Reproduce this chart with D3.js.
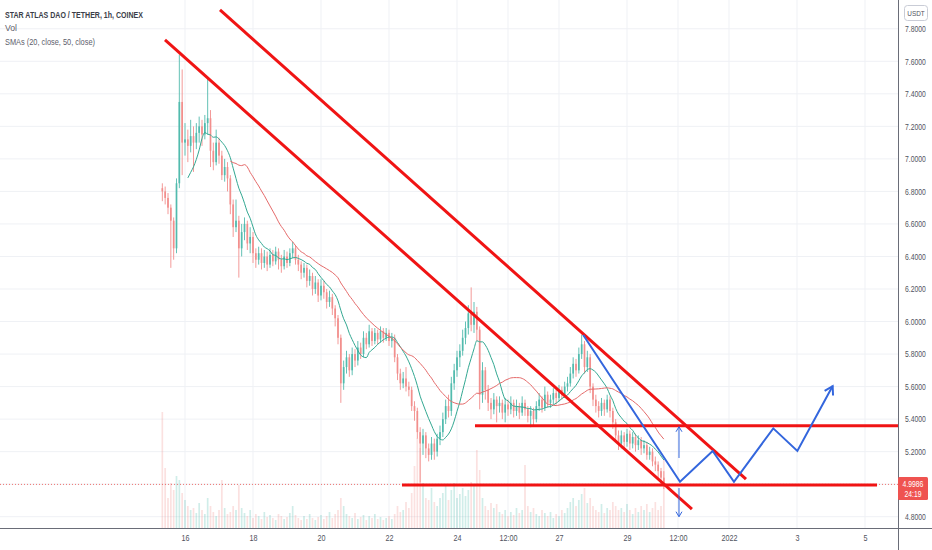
<!DOCTYPE html>
<html><head><meta charset="utf-8">
<script src="https://cdn.jsdelivr.net/npm/d3@7"></script>
<style>
body{margin:0;background:#fff;}
svg{display:block;font-family:"Liberation Sans",Arial,sans-serif;}
</style>
</head><body>
<svg id="c" width="932" height="550"></svg>
<script>
// ---------------- DATA ----------------
const titleText = "STAR ATLAS DAO / TETHER, 1h, COINEX";
const volText = "Vol";
const smaText = "SMAs (20, close, 50, close)";
const currency = "USDT";
const startTime = "2021-12-15T08:00:00Z";   // first candle
const candleHours = 2;                       // candles resampled to 2h
const smaHours = [20, 50];
const firstOpen = 6.82;
const closes = [
6.80,6.76,6.70,6.62,6.45,6.85,7.35,7.10,7.12,7.08,
7.14,7.10,7.16,7.20,7.15,7.22,7.25,7.05,6.98,7.10,
7.02,6.90,6.95,6.88,6.72,6.58,6.62,6.45,6.55,6.60,
6.48,6.52,6.42,6.38,6.42,6.36,6.40,6.35,6.41,6.37,
6.43,6.38,6.34,6.40,6.36,6.42,6.45,6.38,6.35,6.30,
6.33,6.25,6.28,6.20,6.24,6.16,6.22,6.18,6.12,6.15,
6.08,6.02,5.90,5.62,5.72,5.78,5.70,5.80,5.76,5.84,
5.80,5.90,5.86,5.94,5.88,5.93,5.89,5.94,5.90,5.93,
5.88,5.90,5.78,5.68,5.62,5.65,5.60,5.58,5.48,5.45,
5.32,5.25,5.30,5.22,5.18,5.25,5.20,5.28,5.32,5.40,
5.48,5.45,5.62,5.70,5.78,5.82,5.90,5.96,6.05,5.98,
6.06,5.95,5.55,5.70,5.58,5.50,5.46,5.52,5.48,5.50,
5.44,5.49,5.46,5.50,5.45,5.48,5.44,5.50,5.46,5.42,
5.45,5.40,5.48,5.52,5.47,5.55,5.50,5.52,5.56,5.53,
5.58,5.55,5.60,5.62,5.68,5.74,5.70,5.80,5.86,5.72,
5.78,5.60,5.52,5.48,5.45,5.50,5.46,5.52,5.45,5.38,
5.30,5.25,5.30,5.26,5.31,5.25,5.29,5.24,5.27,5.22,
5.24,5.18,5.20,5.14,5.12,5.08,5.04,4.9986];
const highs = [
6.85,6.83,6.79,6.72,6.64,6.88,7.64,7.55,7.22,7.18,
7.24,7.20,7.22,7.26,7.24,7.27,7.50,7.30,7.10,7.18,
7.13,7.05,7.00,6.98,6.90,6.75,6.75,6.65,6.60,6.64,
6.62,6.58,6.55,6.45,6.46,6.45,6.44,6.43,6.45,6.44,
6.46,6.45,6.41,6.44,6.43,6.45,6.49,6.47,6.41,6.37,
6.36,6.35,6.32,6.30,6.28,6.26,6.26,6.25,6.20,6.19,
6.17,6.10,6.04,5.92,5.76,5.82,5.80,5.84,5.83,5.88,
5.87,5.94,5.93,5.98,5.96,5.96,5.95,5.97,5.96,5.96,
5.95,5.93,5.92,5.80,5.71,5.69,5.72,5.63,5.60,5.51,
5.47,5.35,5.34,5.32,5.25,5.29,5.28,5.31,5.36,5.44,
5.52,5.55,5.66,5.74,5.82,5.86,5.95,6.00,6.10,6.21,
6.12,6.09,5.97,5.75,5.72,5.61,5.53,5.56,5.54,5.54,
5.52,5.53,5.52,5.54,5.52,5.52,5.50,5.54,5.52,5.48,
5.48,5.47,5.51,5.56,5.54,5.60,5.57,5.55,5.59,5.58,
5.61,5.60,5.63,5.66,5.72,5.78,5.77,5.84,5.92,5.88,
5.82,5.80,5.62,5.55,5.51,5.53,5.52,5.55,5.54,5.47,
5.40,5.33,5.33,5.32,5.34,5.33,5.32,5.31,5.30,5.29,
5.27,5.26,5.23,5.22,5.17,5.14,5.10,5.08];
const lows = [
6.74,6.72,6.66,6.33,6.38,6.42,6.82,6.90,7.02,6.98,
7.04,6.92,7.06,7.10,7.08,7.12,7.15,6.95,6.93,6.96,
6.97,6.87,6.86,6.80,6.66,6.52,6.55,6.27,6.40,6.50,
6.44,6.42,6.36,6.33,6.35,6.32,6.33,6.31,6.33,6.34,
6.35,6.32,6.30,6.32,6.33,6.34,6.39,6.35,6.31,6.26,
6.27,6.21,6.22,6.16,6.17,6.12,6.13,6.14,6.08,6.09,
6.04,5.97,5.86,5.50,5.58,5.68,5.66,5.67,5.72,5.73,
5.77,5.78,5.83,5.84,5.85,5.86,5.86,5.87,5.87,5.88,
5.85,5.84,5.75,5.64,5.58,5.59,5.57,5.54,5.45,5.39,
5.28,5.01,5.18,5.16,5.14,5.15,5.15,5.17,5.24,5.29,
5.37,5.41,5.42,5.58,5.66,5.72,5.79,5.86,5.92,5.94,
5.93,5.88,5.46,5.50,5.52,5.45,5.40,5.43,5.38,5.44,
5.40,5.38,5.42,5.43,5.41,5.42,5.40,5.42,5.42,5.38,
5.35,5.36,5.38,5.45,5.44,5.45,5.47,5.47,5.49,5.49,
5.51,5.52,5.53,5.57,5.60,5.65,5.66,5.68,5.77,5.68,
5.69,5.56,5.48,5.44,5.41,5.42,5.42,5.44,5.41,5.34,
5.26,5.21,5.22,5.22,5.23,5.21,5.22,5.20,5.21,5.18,
5.19,5.15,5.15,5.11,5.08,5.04,5.00,4.97];
const volumes = [
116,60,30,45,38,52,48,35,28,22,
18,20,15,25,18,14,30,22,16,12,
18,48,20,14,16,22,18,43,20,15,
12,18,10,14,12,9,16,11,13,10,
8,14,12,9,11,15,22,13,10,8,
12,9,14,10,8,11,13,9,12,16,
10,14,18,30,22,14,12,10,15,9,
11,13,8,12,10,14,9,11,8,10,
12,9,14,22,16,18,26,20,35,62,
90,80,45,30,28,40,26,22,30,35,
42,28,38,45,30,34,40,32,38,46,
44,78,58,30,22,18,25,20,24,16,
14,18,12,16,13,20,15,18,63,22,
16,20,14,12,18,15,12,16,10,14,
12,18,15,20,26,30,22,28,34,40,
25,30,22,18,16,24,15,20,18,26,
22,18,20,16,24,18,14,20,16,22,
18,24,16,20,26,18,22,68];
const priceTicks = [4.8,5.0,5.2,5.4,5.6,5.8,6.0,6.2,6.4,6.6,6.8,7.0,7.2,7.4,7.6,7.8];
const tickDates = ["2021-12-16T00:00Z","2021-12-18T00:00Z","2021-12-20T00:00Z","2021-12-22T00:00Z",
  "2021-12-24T00:00Z","2021-12-25T12:00Z","2021-12-27T00:00Z","2021-12-29T00:00Z",
  "2021-12-30T12:00Z","2022-01-01T00:00Z","2022-01-03T00:00Z","2022-01-05T00:00Z"];
const tickLabels = ["16","18","20","22","24","12:00","27","29","12:00","2022","3","5"];
const lastPrice = 4.9986;
const countdown = "24:19";
// hand-drawn annotations (time, price anchors)
const trendLines = [
  [["2021-12-17T00:42Z",7.916],["2022-01-01T12:00Z",5.031]],
  [["2021-12-15T09:53Z",7.731],["2021-12-30T21:50Z",4.847]]];
const levelPrices = [5.359, 4.995];
const levelStarts = ["2021-12-24T12:42Z","2021-12-22T09:10Z"];
const levelEnds = [null,"2022-01-05T08:30Z"];
const projection = [["2021-12-27T17:07Z",5.917],["2021-12-30T13:25Z",5.015],["2021-12-31T12:28Z",5.204],
  ["2022-01-01T03:30Z",5.015],["2022-01-02T07:15Z",5.343],["2022-01-03T00:15Z",5.204],["2022-01-04T01:10Z",5.603]];
const arrowTime = "2021-12-30T12:42Z";
const arrowUp = [5.161, 5.353];
const arrowDown = [4.976, 4.80];

// ---------------- CHART ----------------
const W = 932, H = 550, R = 898, B = 528;
const svg = d3.select("#c");
const x = d3.scaleUtc().domain([new Date("2021-12-16T00:00Z"), new Date("2022-01-01T00:00Z")]).range([185, 729]);
const y = d3.scaleLinear().domain([4.8, 6.2]).range([516.7, 289]);
const yv = d3.scaleLinear().domain([0, d3.max(volumes)]).range([B, 412]);
const t0 = new Date(startTime).getTime();
const HOUR = 3600e3;
const candles = closes.map((c, i) => ({
  t: new Date(t0 + i * candleHours * HOUR),
  o: i === 0 ? firstOpen : closes[i - 1], c, h: highs[i], l: lows[i], v: volumes[i]
}));
const GREEN = "#52bbae", RED = "#f28f8d";
const pd = s => new Date(s);

svg.append("rect").attr("width", W).attr("height", H).attr("fill", "#fff");
svg.append("defs").append("clipPath").attr("id", "plot").append("rect").attr("width", R).attr("height", B);

// grid
const grid = svg.append("g");
grid.selectAll(".hg").data(priceTicks).join("line")
  .attr("x1", 0).attr("x2", R).attr("y1", d => y(d)).attr("y2", d => y(d))
  .attr("stroke", "#eff1f5").attr("stroke-width", 1);
grid.selectAll(".vg").data(tickDates).join("line")
  .attr("x1", d => x(pd(d))).attr("x2", d => x(pd(d))).attr("y1", 0).attr("y2", B)
  .attr("stroke", "#eff1f5").attr("stroke-width", 1);

const plot = svg.append("g").attr("clip-path", "url(#plot)");
const bw = (x(new Date(t0 + candleHours * HOUR)) - x(new Date(t0))) * 0.6;

// volume
plot.append("g").selectAll("rect").data(candles).join("rect")
  .attr("x", d => x(d.t) - bw / 2).attr("width", bw)
  .attr("y", d => yv(d.v)).attr("height", d => B - yv(d.v))
  .attr("fill", d => d.c >= d.o ? GREEN : RED).attr("opacity", 0.27);

// last price dotted line
plot.append("line").attr("x1", 0).attr("x2", R).attr("y1", y(lastPrice)).attr("y2", y(lastPrice))
  .attr("stroke", "#ef5350").attr("stroke-dasharray", "1,2").attr("opacity", 0.8);

// candles
const cg = plot.append("g");
cg.selectAll("line").data(candles).join("line")
  .attr("x1", d => x(d.t)).attr("x2", d => x(d.t)).attr("y1", d => y(d.h)).attr("y2", d => y(d.l))
  .attr("stroke", d => d.c >= d.o ? GREEN : RED).attr("stroke-width", 0.9);
cg.selectAll("rect").data(candles).join("rect")
  .attr("x", d => x(d.t) - bw / 2).attr("width", bw)
  .attr("y", d => y(Math.max(d.o, d.c))).attr("height", d => Math.max(1, Math.abs(y(d.o) - y(d.c))))
  .attr("fill", d => d.c >= d.o ? GREEN : RED);

// SMAs
const smaColors = ["#33a892", "#e56a6a"];
smaHours.forEach((hrs, k) => {
  const n = hrs / candleHours;
  const pts = candles.map((d, i) => i < n - 1 ? null : [d.t, d3.mean(closes.slice(i - n + 1, i + 1))]).filter(Boolean);
  plot.append("path").datum(pts)
    .attr("d", d3.line().x(p => x(p[0])).y(p => y(p[1])).curve(d3.curveMonotoneX))
    .attr("fill", "none").attr("stroke", smaColors[k]).attr("stroke-width", 1);
});

// red drawings
const RL = "#f01414";
trendLines.forEach(tl => {
  plot.append("line")
    .attr("x1", x(pd(tl[0][0]))).attr("y1", y(tl[0][1]))
    .attr("x2", x(pd(tl[1][0]))).attr("y2", y(tl[1][1]))
    .attr("stroke", RL).attr("stroke-width", 3);
});
levelPrices.forEach((p, i) => {
  plot.append("line")
    .attr("x1", x(pd(levelStarts[i]))).attr("x2", levelEnds[i] ? x(pd(levelEnds[i])) : R)
    .attr("y1", y(p)).attr("y2", y(p))
    .attr("stroke", RL).attr("stroke-width", 3);
});

// blue projection
const BL = "#3366dd";
const projPts = projection.map(p => [x(pd(p[0])), y(p[1])]);
plot.append("path").attr("d", d3.line()(projPts)).attr("fill", "none")
  .attr("stroke", BL).attr("stroke-width", 2).attr("stroke-linejoin", "miter");
function head(tip, from, len, w) {
  const dx = tip[0] - from[0], dy = tip[1] - from[1], L = Math.hypot(dx, dy);
  const ux = dx / L, uy = dy / L;
  const a = [tip[0] - ux * len - uy * len * 0.6, tip[1] - uy * len + ux * len * 0.6];
  const b = [tip[0] - ux * len + uy * len * 0.6, tip[1] - uy * len - ux * len * 0.6];
  plot.append("path").attr("d", d3.line()([a, tip, b])).attr("fill", "none")
    .attr("stroke", BL).attr("stroke-width", w);
}
head(projPts[projPts.length - 1], projPts[projPts.length - 2], 8, 2);
const ax = x(pd(arrowTime));
[arrowUp, arrowDown].forEach(a => {
  const p0 = [ax, y(a[0])], p1 = [ax, y(a[1])];
  plot.append("line").attr("x1", p0[0]).attr("y1", p0[1]).attr("x2", p1[0]).attr("y2", p1[1])
    .attr("stroke", BL).attr("stroke-width", 1);
  head(p1, p0, 5, 1);
});

// axes lines
svg.append("line").attr("x1", 0).attr("x2", W).attr("y1", B + 0.5).attr("y2", B + 0.5).attr("stroke", "#6a6d78");
svg.append("line").attr("x1", R + 0.5).attr("x2", R + 0.5).attr("y1", 0).attr("y2", H).attr("stroke", "#6a6d78");

function squeeze(sel, f) {
  sel.each(function () {
    const w = this.getComputedTextLength();
    this.setAttribute("textLength", w * f);
    this.setAttribute("lengthAdjust", "spacingAndGlyphs");
  });
}

// price axis (labels under the last-price tag are hidden, as on the platform)
const shownTicks = priceTicks.filter(t => Math.abs(y(t) - y(lastPrice)) > 12);
const yAxis = svg.append("g").attr("transform", `translate(${R},0)`)
  .call(d3.axisRight(y).tickValues(shownTicks).tickFormat(d3.format(".4f")).tickSize(0).tickPadding(7));
yAxis.select(".domain").remove();
yAxis.selectAll("text").attr("font-size", 8.5).attr("fill", "#50535e")
  .attr("font-family", "Liberation Sans, Arial, sans-serif");
squeeze(yAxis.selectAll("text"), 0.8);

// time axis
const xAxis = svg.append("g").attr("transform", `translate(0,${B})`)
  .call(d3.axisBottom(x).tickValues(tickDates.map(pd)).tickFormat((d, i) => tickLabels[i]).tickSize(0).tickPadding(7));
xAxis.select(".domain").remove();
xAxis.selectAll("text").attr("font-size", 9).attr("fill", "#50535e")
  .attr("font-family", "Liberation Sans, Arial, sans-serif");
squeeze(xAxis.selectAll("text"), 0.8);

// currency box
svg.append("rect").attr("x", 904.5).attr("y", 5.5).attr("width", 23).attr("height", 15).attr("rx", 3)
  .attr("fill", "#fff").attr("stroke", "#c9ccd6");
const ct = svg.append("text").attr("x", 916).attr("y", 16).attr("text-anchor", "middle")
  .attr("font-size", 8).attr("fill", "#50535e").text(currency);
squeeze(ct, 0.8);

// last price label
svg.append("rect").attr("x", R).attr("y", 477).attr("width", 30).attr("height", 23).attr("rx", 1.5).attr("fill", "#ef5350");
const lp1 = svg.append("text").attr("x", 913).attr("y", y(lastPrice) + 3).attr("text-anchor", "middle")
  .attr("font-size", 8.5).attr("fill", "#fff").text(lastPrice.toFixed(4));
const lp2 = svg.append("text").attr("x", 913).attr("y", y(lastPrice) + 13).attr("text-anchor", "middle")
  .attr("font-size", 8.5).attr("fill", "#fff").text(countdown);
squeeze(lp1, 0.8); squeeze(lp2, 0.8);

// legend
const fit = (t, w) => t.attr("textLength", w).attr("lengthAdjust", "spacingAndGlyphs");
fit(svg.append("text").attr("x", 5).attr("y", 17.5).attr("font-size", 9.5).attr("font-weight", "bold")
  .attr("fill", "#3a3d48").text(titleText), 138);
fit(svg.append("text").attr("x", 5).attr("y", 31).attr("font-size", 9.5)
  .attr("fill", "#5d606b").text(volText), 12);
fit(svg.append("text").attr("x", 5).attr("y", 45).attr("font-size", 9.5)
  .attr("fill", "#5d606b").text(smaText), 90);
</script>
</body></html>
